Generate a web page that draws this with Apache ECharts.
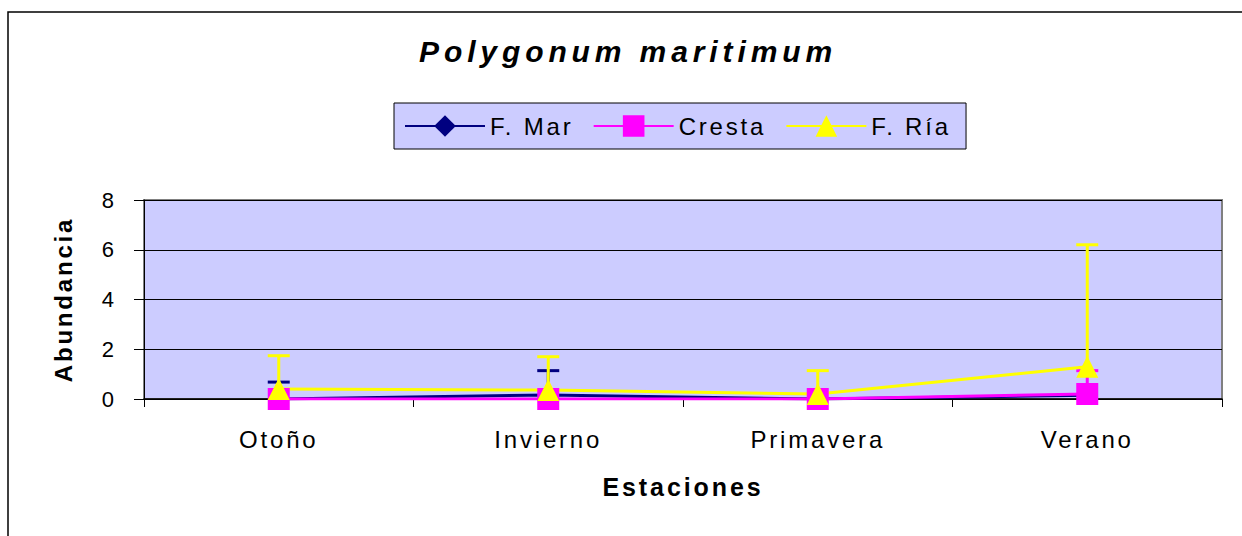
<!DOCTYPE html>
<html><head><meta charset="utf-8">
<script src="https://cdn.jsdelivr.net/npm/echarts@6/dist/echarts.min.js"></script>
<style>html,body{margin:0;padding:0;background:#fff}#chart{width:1242px;height:536px}</style>
</head><body><div id="chart"></div>
<script>
const titleText = 'Polygonum maritimum';
const categories = ['Otoño', 'Invierno', 'Primavera', 'Verano'];
const seriesNames = ['F. Mar', 'Cresta', 'F. Ría'];
const fMar = [0, 0.16, 0, 0.15];
const fMarErr = [0.68, 0.98, 0, 0];
const cresta = [0, 0, 0, 0.2];
const crestaErr = [0, 0, 0, 0.94];
const fRia = [0.4, 0.36, 0.2, 1.3];
const fRiaErr = [1.34, 1.34, 0.94, 4.9];
const yMin = 0, yMax = 8, yStep = 2;

const FONT = "'Liberation Sans', Arial, sans-serif";
const colors = ['#000080', '#FF00FF', '#FFFF00'];
const symbols = ['diamond', 'rect', 'triangle'];
const symbolSizes = [17, 22, 22];
const values = [fMar, cresta, fRia];
const errs = [fMarErr, crestaErr, fRiaErr];

function errSeries(idx) {
  const data = [];
  values[idx].forEach((v, i) => { if (errs[idx][i] > 0) data.push([i, v, errs[idx][i]]); });
  const color = colors[idx];
  return {
    type: 'custom',
    name: 'err' + idx,
    silent: true,
    encode: { x: 0, y: 1 },
    data: data,
    renderItem: function (params, api) {
      const x = api.value(0), v = api.value(1), e = api.value(2);
      const p0 = api.coord([x, v]);
      const p1 = api.coord([x, v + e]);
      const hw = 11;
      return {
        type: 'group',
        children: [
          { type: 'line', shape: { x1: p0[0], y1: p0[1], x2: p1[0], y2: p1[1] }, style: { stroke: color, lineWidth: 3 } },
          { type: 'line', shape: { x1: p1[0] - hw, y1: p1[1], x2: p1[0] + hw, y2: p1[1] }, style: { stroke: color, lineWidth: 3 } }
        ]
      };
    }
  };
}

const series = [];
for (let k = 0; k < 3; k++) {
  series.push(errSeries(k));
  series.push({
    type: 'line',
    name: seriesNames[k],
    data: values[k],
    symbol: symbols[k],
    symbolSize: symbolSizes[k],
    showAllSymbol: true,
    lineStyle: { color: colors[k], width: 3 },
    itemStyle: { color: colors[k], borderWidth: 0 },
    emphasis: { disabled: true }
  });
}

const chart = echarts.init(document.getElementById('chart'), null, { renderer: 'svg' });
chart.setOption({
  animation: false,
  backgroundColor: '#ffffff',
  textStyle: { fontFamily: FONT, color: '#000' },
  graphic: [
    { type: 'rect', shape: { x: 8, y: 12, width: 1300, height: 600 }, style: { fill: 'none', stroke: '#000', lineWidth: 1.5 }, silent: true, z: 0 },
    { type: 'text', x: 628, y: 51, style: { text: titleText, fontFamily: FONT, fontSize: 30, fontWeight: 'bold', fontStyle: 'italic', fill: '#000', align: 'center', verticalAlign: 'middle' }, silent: true }
  ],
  legend: {
    data: seriesNames,
    left: 394, top: 103,
    itemWidth: 80, itemHeight: 27, itemGap: 36,
    padding: [11, 32, 11, 10],
    backgroundColor: '#CCCCFF',
    borderColor: '#000', borderWidth: 1,
    selectedMode: false,
    textStyle: { fontFamily: FONT, fontSize: 24, color: '#000' }
  },
  grid: {
    left: 144, right: 20, top: 200, bottom: 137,
    show: true, backgroundColor: '#CCCCFF', borderColor: '#808080', borderWidth: 2
  },
  xAxis: {
    type: 'category', data: categories, boundaryGap: true,
    name: 'Estaciones', nameLocation: 'middle', nameGap: 75,
    nameTextStyle: { fontFamily: FONT, fontSize: 25, fontWeight: 'bold', color: '#000' },
    axisLine: { lineStyle: { color: '#000', width: 1.5 } },
    axisTick: { show: true, length: 8, lineStyle: { color: '#000' } },
    axisLabel: { fontFamily: FONT, fontSize: 24, color: '#000', margin: 28 },
    splitLine: { show: false }
  },
  yAxis: {
    type: 'value', min: yMin, max: yMax, interval: yStep,
    name: 'Abundancia', nameLocation: 'middle', nameGap: 69,
    nameTextStyle: { fontFamily: FONT, fontSize: 24, fontWeight: 'bold', color: '#000' },
    axisLine: { show: true, lineStyle: { color: '#000', width: 1 } },
    axisTick: { show: true, length: 10, lineStyle: { color: '#000' } },
    axisLabel: { fontFamily: FONT, fontSize: 22, color: '#000', margin: 30 },
    splitLine: { show: true, lineStyle: { color: '#000', width: 1 } }
  },
  series: series
});

function applySpacing() {
  document.querySelectorAll('#chart svg text').forEach(t => {
    const txt = t.textContent || '';
    const fs = parseFloat(getComputedStyle(t).fontSize) || 12;
    let ls = 0;
    if (/^[0-9]+$/.test(txt)) ls = 0;
    else if (fs >= 28) ls = fs * 0.163;
    else ls = fs * 0.117;
    t.style.letterSpacing = ls + 'px';
  });
}
chart.on('finished', applySpacing);
setTimeout(applySpacing, 50);
setTimeout(applySpacing, 300);
</script></body></html>
